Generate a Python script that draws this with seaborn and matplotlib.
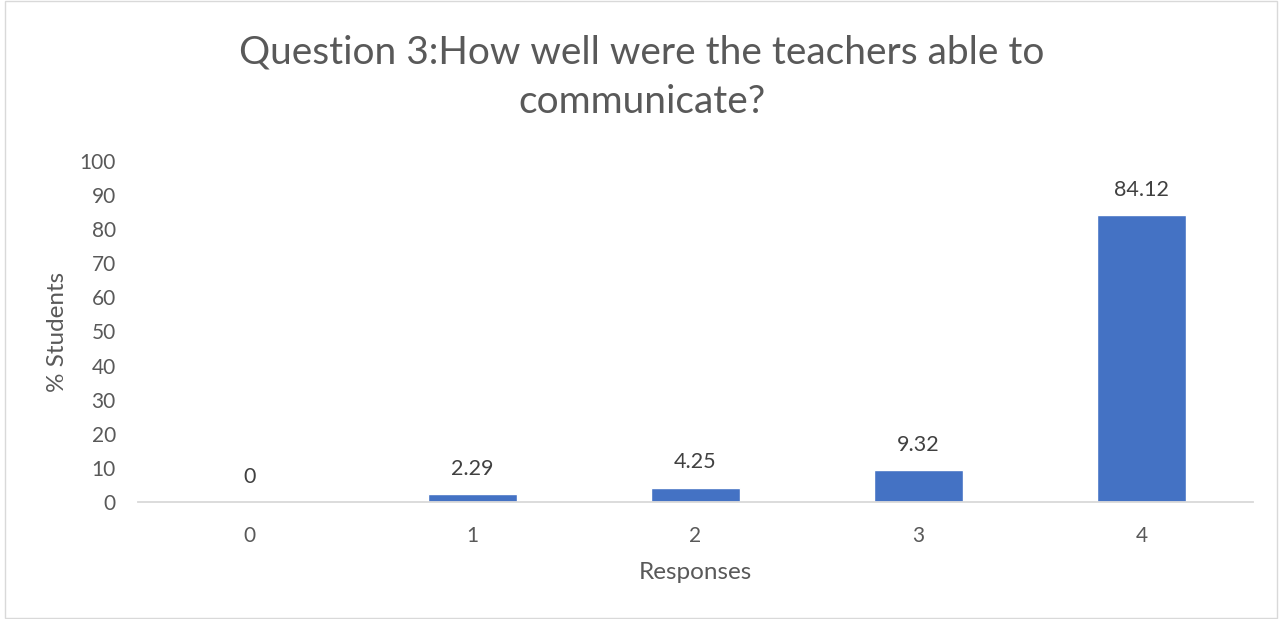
import pandas as pd
import seaborn as sns
import matplotlib.pyplot as plt
from matplotlib.patches import Rectangle

responses = ['0', '1', '2', '3', '4']
pctStudents = [0, 2.29, 4.25, 9.32, 84.12]
labels = ['0', '2.29', '4.25', '9.32', '84.12']

df = pd.DataFrame({'Responses': responses, 'Students': pctStudents})

sns.set_style('white')
plt.rcParams['font.family'] = ['Lato', 'DejaVu Sans']
textCol = '#595959'

fig = plt.figure(figsize=(12.83, 6.19), dpi=100)
ax = fig.add_axes([0.1076, 0.189, 0.869, 0.551])

sns.barplot(data=df, x='Responses', y='Students', color='#4472C4', width=0.4,
            saturation=1, ax=ax)

for i, (v, lab) in enumerate(zip(pctStudents, labels)):
    ax.annotate(lab, (i, v), xytext=(0, 11), textcoords='offset points',
                ha='center', va='bottom', fontsize=15.5, color='#404040')

ax.set_xlim(-0.5, 4.5)
ax.set_ylim(0, 100)
ax.set_yticks(range(0, 101, 10))
ax.tick_params(axis='both', length=0, labelsize=15, labelcolor=textCol)
ax.tick_params(axis='x', pad=17)
ax.tick_params(axis='y', pad=16)

for s in ['top', 'right', 'left']:
    ax.spines[s].set_visible(False)
ax.spines['bottom'].set_color('#D9D9D9')
ax.spines['bottom'].set_linewidth(1.3)

ax.set_xlabel('Responses', fontsize=17.5, color=textCol, labelpad=12)
ax.set_ylabel('% Students', fontsize=17.5, color=textCol, labelpad=8)

fig.text(0.5, 0.875, 'Question 3:How well were the teachers able to\ncommunicate?',
         ha='center', va='center', fontsize=28, color=textCol, linespacing=1.45)

fig.patches.append(Rectangle((0.004, 0.002), 0.991, 0.996, transform=fig.transFigure,
                             fill=False, edgecolor='#D9D9D9', linewidth=1))

plt.savefig('out.png', dpi=100)
